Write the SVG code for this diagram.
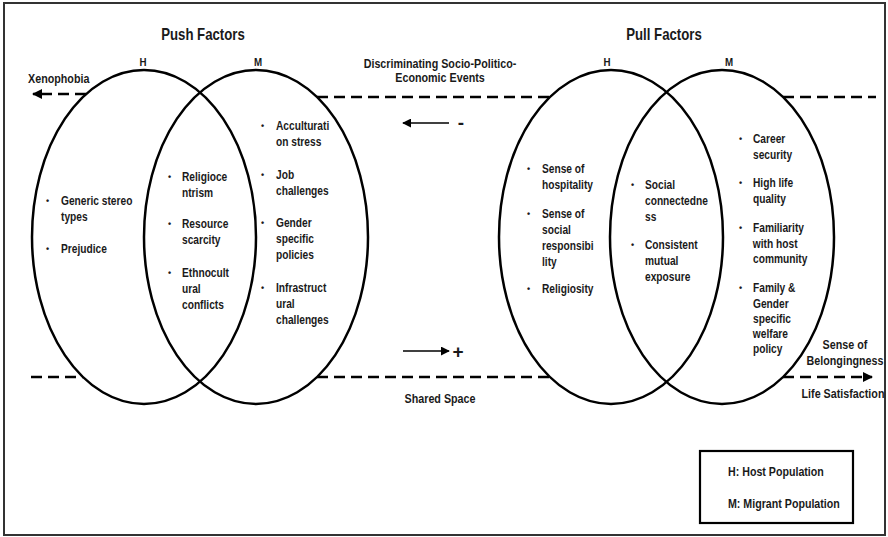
<svg xmlns="http://www.w3.org/2000/svg" width="888" height="537" viewBox="0 0 888 537">
<defs>
<style>
text{font-family:"Liberation Sans",Arial,sans-serif;font-weight:bold;fill:#1a1a1a;transform-box:fill-box}
.title{font-size:16.5px;text-anchor:middle;transform:scaleX(0.8);transform-origin:50% 50%}
.hm{font-size:11.5px;text-anchor:middle;transform:scaleX(0.85);transform-origin:50% 50%}
.lbl{font-size:12.5px;transform:scaleX(0.86);transform-origin:0 0}
.lblc{font-size:12.5px;text-anchor:middle;transform:scaleX(0.86);transform-origin:50% 50%}
.sign{font-size:19px;text-anchor:middle}
.leg{font-size:13px;transform:scaleX(0.82);transform-origin:0 0}
.it{font-size:12px;transform:scaleX(0.85);transform-origin:0 0}
.bul{font-size:9px}
.ell{fill:none;stroke:#000;stroke-width:2.5}
.dash{fill:none;stroke:#000;stroke-width:2.5;stroke-dasharray:11 6}
.solid{fill:none;stroke:#000;stroke-width:1.3}
</style>
<marker id="tri" viewBox="0 0 10 10" refX="9" refY="5" markerWidth="10" markerHeight="10" markerUnits="userSpaceOnUse" orient="auto">
<path d="M0,0 L10,5 L0,10 Z" fill="#000"/>
</marker>
<marker id="tri2" viewBox="0 0 10 10" refX="9" refY="5" markerWidth="9" markerHeight="9" markerUnits="userSpaceOnUse" orient="auto">
<path d="M0,0 L10,5 L0,10 Z" fill="#000"/>
</marker>
</defs>
<rect x="0" y="0" width="888" height="537" fill="#fff"/>
<rect x="4" y="3" width="881" height="532" fill="none" stroke="#333" stroke-width="2"/>

<g id="connectors">
<line class="dash" x1="86" y1="94" x2="33" y2="94" marker-end="url(#tri)"/>
<line class="dash" x1="317" y1="97" x2="550" y2="97"/>
<line class="dash" x1="783" y1="97" x2="876" y2="97"/>
<line class="dash" x1="31" y1="377" x2="83" y2="377"/>
<line class="dash" x1="317" y1="377" x2="550" y2="377"/>
<line class="dash" x1="783" y1="377" x2="872" y2="377" marker-end="url(#tri)"/>
<line class="solid" x1="449" y1="123" x2="403" y2="123" marker-end="url(#tri2)"/>
<line class="solid" x1="403" y1="351" x2="449" y2="351" marker-end="url(#tri2)"/>
</g>

<g id="push-factors">
<text class="title" x="203" y="40">Push Factors</text>
<g id="push-H">
<ellipse class="ell" cx="144" cy="237" rx="112" ry="167"/>
<text class="hm" x="143" y="66">H</text>
<text class="bul" x="46" y="204">•</text>
<text class="it" x="61" y="205">Generic stereo</text>
<text class="it" x="61" y="221">types</text>
<text class="bul" x="46" y="252">•</text>
<text class="it" x="61" y="253">Prejudice</text>
</g>
<g id="push-M">
<ellipse class="ell" cx="256" cy="237" rx="112" ry="167"/>
<text class="hm" x="258" y="66">M</text>
<text class="bul" x="261" y="129">•</text>
<text class="it" x="276" y="130">Acculturati</text>
<text class="it" x="276" y="146">on stress</text>
<text class="bul" x="261" y="178">•</text>
<text class="it" x="276" y="179">Job</text>
<text class="it" x="276" y="195">challenges</text>
<text class="bul" x="261" y="226">•</text>
<text class="it" x="276" y="227">Gender</text>
<text class="it" x="276" y="243">specific</text>
<text class="it" x="276" y="259">policies</text>
<text class="bul" x="261" y="291">•</text>
<text class="it" x="276" y="292">Infrastruct</text>
<text class="it" x="276" y="308">ural</text>
<text class="it" x="276" y="324">challenges</text>
</g>
<g id="push-HM">
<text class="bul" x="168" y="180">•</text>
<text class="it" x="182" y="181">Religioce</text>
<text class="it" x="182" y="197">ntrism</text>
<text class="bul" x="168" y="227">•</text>
<text class="it" x="182" y="228">Resource</text>
<text class="it" x="182" y="244">scarcity</text>
<text class="bul" x="168" y="276">•</text>
<text class="it" x="182" y="277">Ethnocult</text>
<text class="it" x="182" y="293">ural</text>
<text class="it" x="182" y="309">conflicts</text>
</g>
</g>

<g id="pull-factors">
<text class="title" x="664" y="40">Pull Factors</text>
<g id="pull-H">
<ellipse class="ell" cx="611" cy="237" rx="112" ry="167"/>
<text class="hm" x="607" y="66">H</text>
<text class="bul" x="527" y="172">•</text>
<text class="it" x="542" y="173">Sense of</text>
<text class="it" x="542" y="189">hospitality</text>
<text class="bul" x="527" y="217">•</text>
<text class="it" x="542" y="218">Sense of</text>
<text class="it" x="542" y="234">social</text>
<text class="it" x="542" y="250">responsibi</text>
<text class="it" x="542" y="266">lity</text>
<text class="bul" x="527" y="292">•</text>
<text class="it" x="542" y="293">Religiosity</text>
</g>
<g id="pull-M">
<ellipse class="ell" cx="722" cy="237" rx="112" ry="167"/>
<text class="hm" x="729" y="66">M</text>
<text class="bul" x="739" y="142">•</text>
<text class="it" x="753" y="143">Career</text>
<text class="it" x="753" y="159">security</text>
<text class="bul" x="739" y="186">•</text>
<text class="it" x="753" y="187">High life</text>
<text class="it" x="753" y="203">quality</text>
<text class="bul" x="739" y="231">•</text>
<text class="it" x="753" y="232">Familiarity</text>
<text class="it" x="753" y="248">with host</text>
<text class="it" x="753" y="263">community</text>
<text class="bul" x="739" y="291">•</text>
<text class="it" x="753" y="292">Family &amp;</text>
<text class="it" x="753" y="308">Gender</text>
<text class="it" x="753" y="323">specific</text>
<text class="it" x="753" y="338">welfare</text>
<text class="it" x="753" y="353">policy</text>
</g>
<g id="pull-HM">
<text class="bul" x="631" y="188">•</text>
<text class="it" x="645" y="189">Social</text>
<text class="it" x="645" y="205">connectedne</text>
<text class="it" x="645" y="221">ss</text>
<text class="bul" x="631" y="248">•</text>
<text class="it" x="645" y="249">Consistent</text>
<text class="it" x="645" y="265">mutual</text>
<text class="it" x="645" y="281">exposure</text>
</g>
</g>

<g id="labels">
<text class="lbl" x="28" y="83">Xenophobia</text>
<text class="lblc" x="440" y="68">Discriminating Socio-Politico-</text>
<text class="lblc" x="440" y="82">Economic Events</text>
<text class="sign" x="461" y="129">-</text>
<text class="sign" x="458" y="358">+</text>
<text class="lblc" x="440" y="403">Shared Space</text>
<text class="lblc" x="845" y="349">Sense of</text>
<text class="lblc" x="845" y="365">Belongingness</text>
<text class="lblc" x="843" y="398">Life Satisfaction</text>
</g>

<g id="legend">
<rect x="700" y="451" width="153" height="72" fill="none" stroke="#000" stroke-width="2.2"/>
<text class="leg" x="728" y="476">H: Host Population</text>
<text class="leg" x="728" y="508">M: Migrant Population</text>
</g>
</svg>
